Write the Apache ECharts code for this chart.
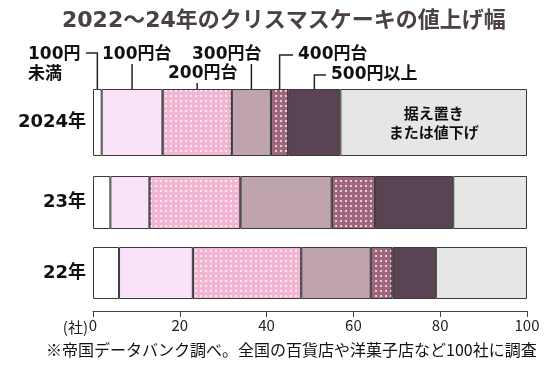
<!DOCTYPE html>
<html><head><meta charset="utf-8">
<script src="https://cdn.jsdelivr.net/npm/echarts@6/dist/echarts.min.js"></script>
<style>html,body{margin:0;padding:0;background:#fff}#c{width:550px;height:370px}</style>
</head><body><div id="c"></div>
<script>
const categories = ['100円未満','100円台','200円台','300円台','400円台','500円以上','据え置きまたは値下げ'];
const years = ['2024年','23年','22年'];
const v2024 = [2,14,16,9,4,12,43];
const v2023 = [4,9,21,21,10,18,17];
const v2022 = [6,17,25,16,5,10,21];
const xTicks = [0,20,40,60,80,100];
const values = [v2024, v2023, v2022];

const FONT = '"Noto Sans CJK JP", "Noto Sans", sans-serif';
const BFONT = '"DejaVu Sans", "Noto Sans CJK JP", sans-serif';
const colors = ['#ffffff','#f9e3f8','#f2b6d2','#bfa3af','#a0667d','#5a4353','#e6e6e6'];
const patterned = [false,false,true,false,true,false,false];
const gridDefs = [
  {left:93,right:23,top:89,height:67},
  {left:93,right:23,top:176,height:53},
  {left:93,right:23,top:247,height:52}
];
const decal = {symbol:'rect', symbolSize:1, color:'rgba(255,255,255,0.7)', dashArrayX:[1.3,2.9], dashArrayY:[1.3,2.9], rotation:0};

const series = [];
years.forEach((y,i)=>{
  categories.forEach((c,j)=>{
    const s = {
      type:'bar', name:c, xAxisIndex:i, yAxisIndex:i, stack:'s'+i, barWidth:'100%',
      data:[values[i][j]], silent:true, animation:false,
      itemStyle:{color:colors[j], borderColor:'#3a3a3a', borderWidth:1}
    };
    if (patterned[j]) s.itemStyle.decal = decal;
    if (i===0 && j===6) {
      s.label = {show:true, position:'inside', formatter:'据え置き\nまたは値下げ', fontFamily:FONT, fontSize:15, fontWeight:'bold', lineHeight:19, color:'#111'};
    }
    series.push(s);
  });
});

const chart = echarts.init(document.getElementById('c'));
chart.setOption({
  animation:false,
  title:{text:'2022～24年のクリスマスケーキの値上げ幅', left:57, top:5,
    textStyle:{fontFamily:BFONT, fontSize:22, fontWeight:'bold', color:'#4b4046'}},
  grid: gridDefs,
  xAxis: gridDefs.map((g,i)=>({
    gridIndex:i, type:'value', min:xTicks[0], max:xTicks[xTicks.length-1], interval:xTicks[1]-xTicks[0],
    show: i===2, offset:12, splitLine:{show:false},
    axisLine:{show:true, lineStyle:{color:'#444', width:1}},
    axisTick:{show:true, length:6, lineStyle:{color:'#444'}},
    axisLabel:{fontFamily:FONT, fontSize:15, color:'#222', margin:7}
  })),
  yAxis: gridDefs.map((g,i)=>({
    gridIndex:i, type:'category', data:[years[i]],
    axisLine:{show:false}, axisTick:{show:false},
    axisLabel:{fontFamily:BFONT, fontSize:18, fontWeight:'bold', color:'#111', margin:7}
  })),
  series: series
});

// annotations with leader lines to dots in the 2024 bar
const mids = [];
let acc = 0;
v2024.forEach(v=>{ mids.push(acc + v/2); acc += v; });
const px = mids.map(m=>chart.convertToPixel({xAxisIndex:0}, m));
const dotY = gridDefs[0].top + 8;
const lineStyle = {stroke:'#222', lineWidth:1.5, fill:null};
const txt = (x,y,t)=>({type:'text', x:x, y:y, style:{text:t, fontFamily:BFONT, fontSize:17, fontWeight:'bold', fill:'#111', textVerticalAlign:'middle', textAlign:'left'}});
const g = [];
g.push(txt(28,55,'100円'));
g.push(txt(28,75,'未満'));
g.push({type:'polyline', shape:{points:[[86,53],[px[0],53],[px[0],dotY]]}, style:lineStyle});
g.push(txt(102,55,'100円台'));
g.push({type:'polyline', shape:{points:[[px[1],64],[px[1],dotY]]}, style:lineStyle});
g.push(txt(168,74,'200円台'));
g.push({type:'polyline', shape:{points:[[px[2],83],[px[2],dotY]]}, style:lineStyle});
g.push(txt(192,55,'300円台'));
g.push({type:'polyline', shape:{points:[[px[3],64],[px[3],dotY]]}, style:lineStyle});
g.push(txt(298,55,'400円台'));
g.push({type:'polyline', shape:{points:[[293,55],[px[4],55],[px[4],dotY]]}, style:lineStyle});
g.push(txt(331,75,'500円以上'));
g.push({type:'polyline', shape:{points:[[326,75],[px[5],75],[px[5],dotY]]}, style:lineStyle});
for (let k=0;k<6;k++) g.push({type:'circle', shape:{cx:px[k], cy:dotY, r:2.5}, style:{fill:'#111'}});
g.push({type:'text', x:88, y:327, style:{text:'(社)', fontFamily:FONT, fontSize:15, fill:'#222', textAlign:'right', textVerticalAlign:'middle'}});
g.push({type:'text', x:46, y:350, style:{text:'※帝国データバンク調べ。全国の百貨店や洋菓子店など100社に調査', fontFamily:FONT, fontSize:16, fill:'#111', textAlign:'left', textVerticalAlign:'middle'}});
chart.setOption({graphic:g});
</script></body></html>
